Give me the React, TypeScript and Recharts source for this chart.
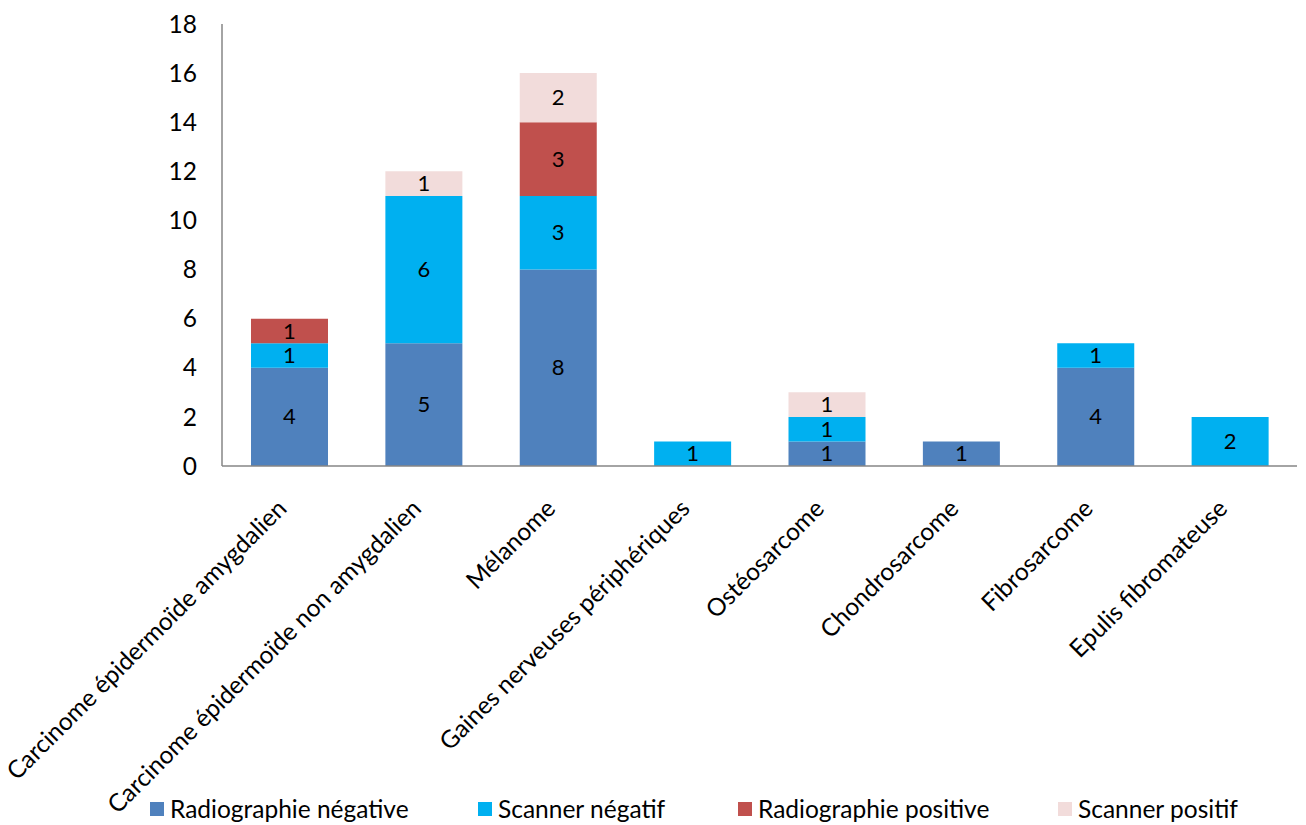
import { BarChart, Bar, XAxis, YAxis, LabelList } from "recharts";

// Catégories de tumeurs et résultats d'imagerie
const categories = [
  "Carcinome épidermoïde amygdalien",
  "Carcinome épidermoïde non amygdalien",
  "Mélanome",
  "Gaines nerveuses périphériques",
  "Ostéosarcome",
  "Chondrosarcome",
  "Fibrosarcome",
  "Epulis fibromateuse",
];
const radioNegative = [4, 5, 8, 0, 1, 1, 4, 0];
const scannerNegatif = [1, 6, 3, 1, 1, 0, 1, 2];
const radioPositive = [1, 0, 3, 0, 0, 0, 0, 0];
const scannerPositif = [0, 1, 2, 0, 1, 0, 0, 0];
const yTicks = [0, 2, 4, 6, 8, 10, 12, 14, 16, 18];

const series = [
  { key: "radioNeg", name: "Radiographie négative", values: radioNegative, color: "#4F81BD" },
  { key: "scanNeg", name: "Scanner négatif", values: scannerNegatif, color: "#00B0F0" },
  { key: "radioPos", name: "Radiographie positive", values: radioPositive, color: "#C0504D" },
  { key: "scanPos", name: "Scanner positif", values: scannerPositif, color: "#F2DCDB" },
];

const data = categories.map((name, i) => {
  const row: Record<string, string | number> = { name };
  series.forEach((s) => {
    row[s.key] = s.values[i];
  });
  return row;
});

const FONT = "Lato, 'Noto Sans', sans-serif";

// étiquette inclinée à -45° sous l'axe
function CategoryTick(props: any) {
  const { x, y, payload } = props;
  const px = x - 1;
  const py = y + 36;
  return (
    <text
      x={px}
      y={py}
      transform={`rotate(-45, ${px}, ${py})`}
      textAnchor="end"
      fontSize={24.5}
      fontFamily={FONT}
      fill="#000"
    >
      {payload.value}
    </text>
  );
}

// valeur affichée au centre du segment (masquée si 0)
function SegmentLabel(props: any) {
  const { x, y, width, height, value } = props;
  if (!value) return null;
  return (
    <text
      x={x + width / 2}
      y={y + height / 2 + 2}
      textAnchor="middle"
      dominantBaseline="middle"
      fontSize={22}
      fontFamily={FONT}
      fill="#000"
    >
      {value}
    </text>
  );
}

const legendX = [150, 478, 738, 1058];

export default function App() {
  return (
    <div
      style={{
        position: "absolute",
        left: 0,
        top: 0,
        width: 1306,
        height: 825,
        background: "#fff",
        fontFamily: FONT,
      }}
    >
      <BarChart
        width={1306}
        height={825}
        data={data}
        margin={{ top: 24, right: 9, bottom: 0, left: 0 }}
        barSize={77}
      >
        <XAxis
          dataKey="name"
          interval={0}
          height={359}
          tickLine={false}
          axisLine={{ stroke: "#868686", strokeWidth: 1.5 }}
          tick={<CategoryTick />}
        />
        <YAxis
          width={222}
          domain={[0, 18]}
          ticks={yTicks}
          interval={0}
          tickLine={false}
          tickSize={0}
          tickMargin={25}
          axisLine={{ stroke: "#868686", strokeWidth: 1.5 }}
          tick={{ fontSize: 24.5, fill: "#000", fontFamily: FONT }}
        />
        {series.map((s) => (
          <Bar
            key={s.key}
            dataKey={s.key}
            name={s.name}
            stackId="a"
            fill={s.color}
            isAnimationActive={false}
          >
            <LabelList dataKey={s.key} content={<SegmentLabel />} />
          </Bar>
        ))}
      </BarChart>
      {series.map((s, i) => (
        <div
          key={s.key}
          style={{
            position: "absolute",
            left: legendX[i],
            top: 794,
            display: "flex",
            alignItems: "center",
            fontSize: 24.5,
            color: "#000",
            whiteSpace: "nowrap",
          }}
        >
          <span
            style={{
              display: "inline-block",
              width: 14,
              height: 14,
              background: s.color,
              marginRight: 6,
            }}
          />
          {s.name}
        </div>
      ))}
    </div>
  );
}
